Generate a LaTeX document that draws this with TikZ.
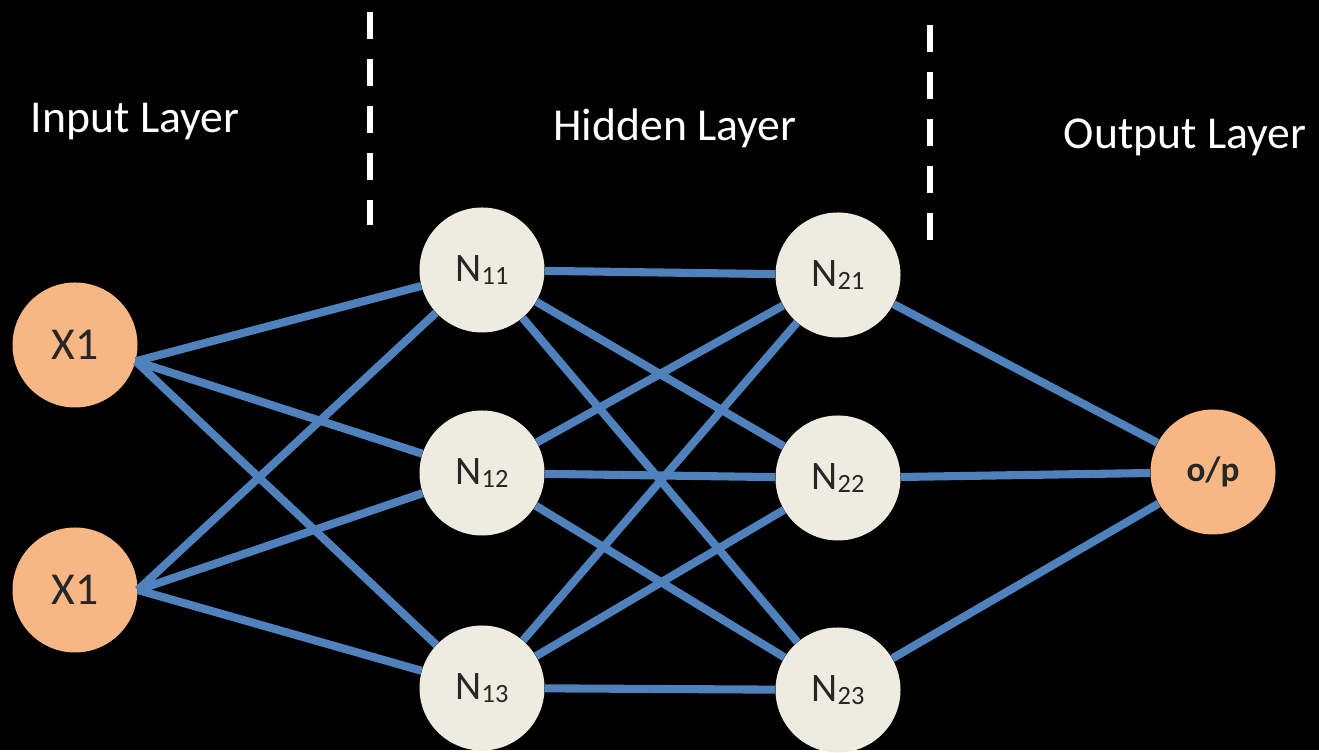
\documentclass[tikz,border=0pt]{standalone}
\usepackage{fontspec}
\setmainfont{Carlito}
\definecolor{nnblue}{HTML}{4F81BD}
\definecolor{nnorange}{HTML}{F6B785}
\definecolor{nnbeige}{HTML}{EEECE1}
\newcommand{\neu}[1]{N\raisebox{-1.5pt}{\fontsize{15}{15}\selectfont #1}}

\begin{document}
\begin{tikzpicture}[
  inp/.style={circle, fill=nnorange, minimum size=2.5cm, inner sep=0pt, text=black!85, font=\fontsize{26}{30}\selectfont},
  hid/.style={circle, fill=nnbeige, minimum size=2.5cm, inner sep=0pt, text=black!85, font=\fontsize{23}{26}\selectfont},
  link/.style={nnblue, line width=4.6pt},
  sep/.style={white, line width=3.4pt, dash pattern=on 0.54cm off 0.4cm},
  title/.style={white, font=\fontsize{26}{30}\selectfont}
]
\fill[black] (0,0) rectangle (26.38,15);
\draw[sep] (7.4,14.76) -- (7.4,10.5);
\draw[sep] (18.6,14.5) -- (18.6,10.2);
\node[title] (tin) at (2.7,12.56) {Input Layer};
\node[title] (thid) at (13.5,12.44) {Hidden Layer};
\node[title] (tout) at (23.7,12.26) {Output Layer};

\node[inp] (x1a) at (1.5,8.1) {X1};
\node[inp] (x1b) at (1.5,3.2) {X1};
\node[hid] (n11) at (9.64,9.6) {\neu{11}};
\node[hid] (n12) at (9.64,5.54) {\neu{12}};
\node[hid] (n13) at (9.64,1.24) {\neu{13}};
\node[hid] (n21) at (16.76,9.5) {\neu{21}};
\node[hid] (n22) at (16.76,5.44) {\neu{22}};
\node[hid] (n23) at (16.76,1.2) {\neu{23}};
\node[inp, font=\bfseries\fontsize{20}{24}\selectfont] (op) at (24.26,5.56) {o/p};

\draw[link] (x1a.-15) -- (n11);
\draw[link] (x1a.-15) -- (n12);
\draw[link] (x1a.-15) -- (n13);
\draw[link] (x1b.east) -- (n11);
\draw[link] (x1b.east) -- (n12);
\draw[link] (x1b.east) -- (n13);
\draw[link] (n11) -- (n21);
\draw[link] (n11) -- (n22);
\draw[link] (n11) -- (n23);
\draw[link] (n12) -- (n21);
\draw[link] (n12) -- (n22);
\draw[link] (n12) -- (n23);
\draw[link] (n13) -- (n21);
\draw[link] (n13) -- (n22);
\draw[link] (n13) -- (n23);
\draw[link] (n21) -- (op);
\draw[link] (n22) -- (op);
\draw[link] (n23) -- (op);
\end{tikzpicture}
\end{document}
